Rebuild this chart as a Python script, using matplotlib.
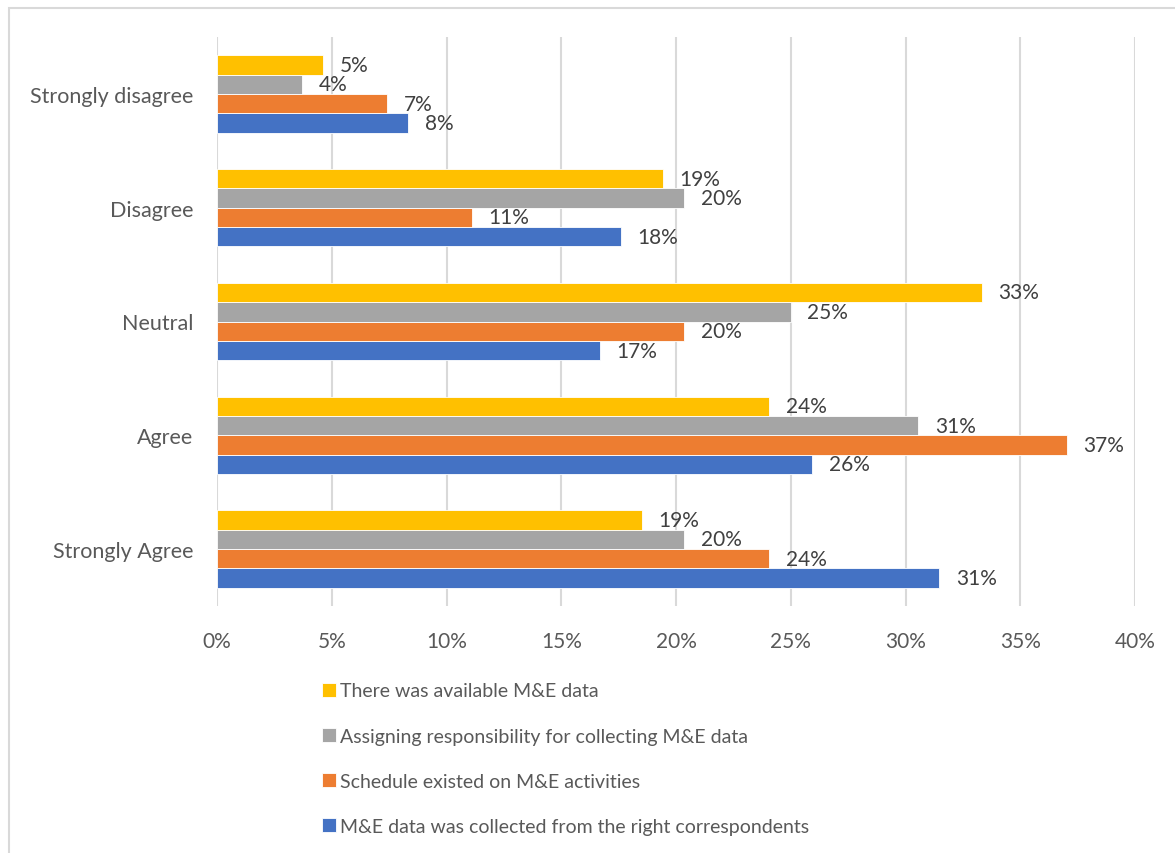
import matplotlib.pyplot as plt
import numpy as np
from matplotlib.patches import Rectangle

categories = ['Strongly Agree', 'Agree', 'Neutral', 'Disagree', 'Strongly disagree']
series = [
    'M&E data was collected from the right correspondents',
    'Schedule existed on M&E activities',
    'Assigning responsibility for collecting M&E data',
    'There was available M&E data',
]
collected = [31.48, 25.93, 16.67, 17.59, 8.33]
schedule = [24.07, 37.04, 20.37, 11.11, 7.41]
responsibility = [20.37, 30.56, 25.00, 20.37, 3.70]
available = [18.52, 24.07, 33.33, 19.44, 4.63]
colors = ['#4472C4', '#ED7D31', '#A5A5A5', '#FFC000']

plt.rcParams['font.family'] = ['Lato', 'DejaVu Sans']

fig = plt.figure(figsize=(11.75, 8.54), dpi=100)
fig.patches.append(Rectangle((9 / 1175, -0.1), 1.2, 1 - 9 / 854 + 0.1,
                             transform=fig.transFigure, fill=False,
                             edgecolor='#d9d9d9', linewidth=1.5))
ax = fig.add_axes([217 / 1175, 1 - 607 / 854, 918 / 1175, 569 / 854])

y = np.arange(len(categories))
h = 0.17
data = [collected, schedule, responsibility, available]
handles = []
for k, (vals, name, c) in enumerate(zip(data, series, colors)):
    pos = y + (k - 1.5) * h
    bars = ax.barh(pos, vals, height=h, color=c, edgecolor='white',
                   linewidth=0.6, label=name, zorder=3)
    handles.append(bars)
    for p, v in zip(pos, vals):
        ax.text(v + 0.72, p, f'{round(v):.0f}%', va='center', ha='left',
                fontsize=15, color='#404040')

ax.set_xlim(0, 40)
ax.set_ylim(-0.5, 4.5)
ax.set_xticks(range(0, 41, 5))
ax.set_xticklabels([f'{t}%' for t in range(0, 41, 5)])
ax.set_yticks(y)
ax.set_yticklabels(categories)
ax.tick_params(axis='both', length=0, labelsize=15, labelcolor='#595959')
ax.tick_params(axis='y', labelsize=15.5, pad=17)
ax.tick_params(axis='x', pad=18)
ax.grid(axis='x', color='#d9d9d9', linewidth=1.5, zorder=0)
for s in ax.spines.values():
    s.set_visible(False)

leg = fig.legend(handles[::-1], series[::-1], loc='upper left',
                 bbox_to_anchor=(304 / 1175, 1 - 666 / 854), frameon=False,
                 fontsize=14, labelcolor='#595959', handlelength=0.75,
                 handleheight=0.75, handletextpad=0.2, labelspacing=1.45)

fig.savefig('out.png', dpi=100)
